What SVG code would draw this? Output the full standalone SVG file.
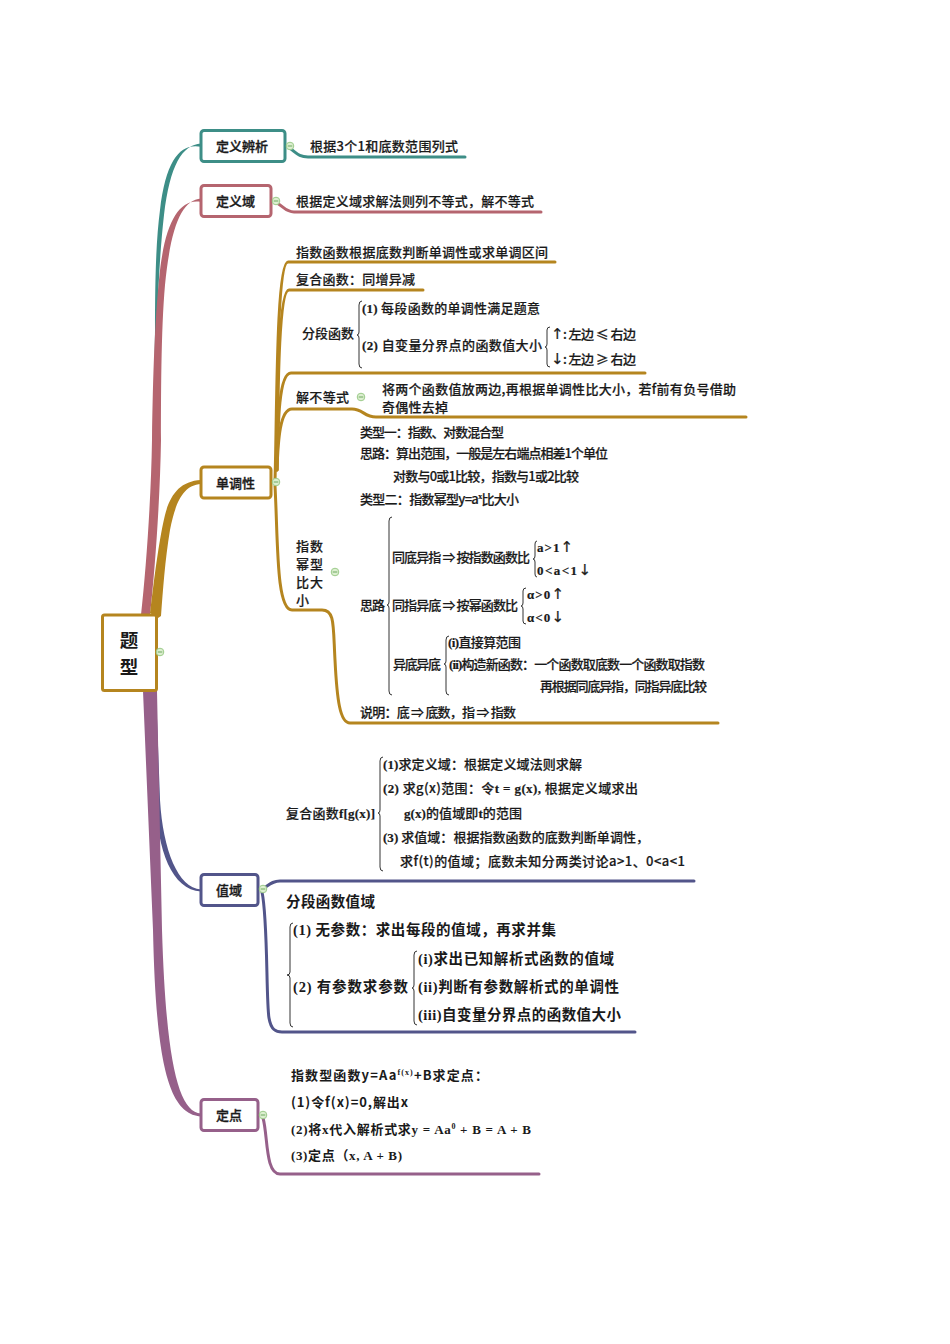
<svg xmlns="http://www.w3.org/2000/svg" width="950" height="1344" viewBox="0 0 950 1344">
<style>
text{font-family:"Noto Sans CJK SC","Liberation Sans",sans-serif;font-size:13px;font-weight:500;fill:#1a1a1a;stroke:#1a1a1a;stroke-width:.2}
.n{font-weight:500;stroke-width:.35}
.p{font-weight:700;stroke-width:0}
.b{font-size:14.5px;font-weight:700;stroke-width:0}
.m{font-family:"Liberation Serif","Noto Sans CJK SC",serif;font-weight:700}
.s{font-family:"Liberation Serif",serif;font-weight:700;font-size:8px}
.a{font-family:"DejaVu Sans",sans-serif;font-size:15px;font-weight:400}
.t{font-weight:700;stroke-width:0;text-anchor:middle;font-size:18.500px}
.box{fill:#fff;stroke-width:3}
.l{fill:none;stroke-width:3;stroke-linecap:round;stroke-linejoin:round}
.br{fill:none;stroke:#333;stroke-width:1}
.c{fill:#dcefd0;stroke:#9ccb8a;stroke-width:1}
.d{stroke:#6ea860;stroke-width:1}
</style>
<defs>
<g id="mi"><circle class="c" r="3.8"/><line class="d" x1="-2.300" x2="2.300"/></g>
</defs>
<g id="connectors">
<path fill="#3d8e87" d="M201,143.500C182,145 170,165 164,215C160,250 158,290 157,330L155,400H154L155,330C155,280 156,240 160,210C166,160 180,143 201,146.800Z"/>
<path fill="#b5656f" d="M201,198.500C182,200 171,225 165,285C161,330 161,400 161,440C160,500 155,570 150,615H141C146,570 151,500 152,440C153,370 155,320 159,280C164,225 178,198 201,202Z"/>
<path fill="#b5851f" d="M201,480C180,481 170,495 165,515C160,535 155,570 150,613L158,618L161,616C163,590 165,560 170,530C175,505 182,485 201,484Z"/>
<path fill="#52558a" d="M156,691L160,800C163,850 178,888 201,889.500V891.500C172,890 157,850 156,800L150,691Z"/>
<path fill="#96608a" d="M143,691H157L162,930C166,1060 178,1112 201,1113.500V1116.500C170,1114 156,1070 153,930Z"/>
<g class="l" stroke="#3d8e87"><path d="M288,147C296,152 298,157 308,157H465"/></g>
<g class="l" stroke="#b5656f"><path d="M277,203C284,207 286,212 294,212H541"/></g>
<g class="l" stroke="#b5851f">
<path d="M275,480C277,420 276,262 288,262H555"/>
<path d="M277,470C278,400 278,290 289,290H423"/>
<path d="M277,470C278,420 279,373 291,373H645"/>
<path d="M277,470C278,440 280,409 292,409H352C363,409 364,417 376,417H746"/>
<path d="M275,486C278,540 276,610 292,610H322C335,610 333,625 335,660C337,700 340,723 350,723H718"/>
</g>
<g class="l" stroke="#52558a">
<path d="M264,888C270,884 273,881 280,881H694"/>
<path d="M262,892C268,920 266,1000 269,1018C271,1030 276,1032 282,1032H635"/>
</g>
<g class="l" stroke="#96608a"><path d="M263,1118C268,1135 265,1174 280,1174H539"/></g>
</g>
<g id="braces">
<path class="br" d="M362,301Q359,301 359,305V332Q359,335 357,335Q359,335 359,338V364Q359,368 362,368"/>
<path class="br" d="M550,327Q547,327 547,330V344Q547,347 545,347Q547,347 547,350V364Q547,367 550,367"/>
<path class="br" d="M392,517Q389,517 389,521V602Q389,605 387,605Q389,605 389,608V691Q389,695 392,695"/>
<path class="br" d="M537,541Q535,541 535,544V556Q535,559 533,559Q535,559 535,562V574Q535,577 537,577"/>
<path class="br" d="M526,588Q523,588 523,591V603Q523,606 521,606Q523,606 523,609V621Q523,624 526,624"/>
<path class="br" d="M449,636Q446,636 446,640V661Q446,664 444,664Q446,664 446,667V691Q446,695 449,695"/>
<path class="br" d="M383,757Q380,757 380,761V810Q380,813 378,813Q380,813 380,816V867Q380,871 383,871"/>
<path class="br" d="M293,923Q290,923 290,927V972Q290,975 287,975Q290,975 290,978V1023Q290,1027 293,1027"/>
<path class="br" d="M417,951Q414,951 414,955V985Q414,988 412,988Q414,988 414,991V1021Q414,1025 417,1025"/>
</g>
<g id="root"><rect class="box" x="102.500" y="615" width="54" height="75.500" rx="2" stroke="#b5851f"/>
<text class="t" x="129" y="647">题</text>
<text class="t" x="129" y="674">型</text></g>
<g id="node-dingyibianxi"><rect class="box" x="201" y="130.500" width="84" height="31" rx="3" stroke="#3d8e87"/><text class="n" x="216" y="151" textLength="52">定义辨析</text></g>
<g id="node-dingyiyu"><rect class="box" x="201" y="185.500" width="70" height="31" rx="3" stroke="#b5656f"/><text class="n" x="216" y="206" textLength="39">定义域</text></g>
<g id="node-dandiaoxing"><rect class="box" x="201" y="467" width="70" height="31" rx="3" stroke="#b5851f"/><text class="n" x="216" y="488" textLength="39">单调性</text></g>
<g id="node-zhiyu"><rect class="box" x="201" y="874.500" width="57" height="31" rx="3" stroke="#52558a"/><text class="n" x="216" y="895" textLength="26">值域</text></g>
<g id="node-dingdian"><rect class="box" x="201" y="1099.500" width="57" height="31" rx="3" stroke="#96608a"/><text class="n" x="216" y="1120" textLength="26">定点</text></g>
<g id="toggles">
<use href="#mi" x="160" y="652"/><use href="#mi" x="290" y="146"/><use href="#mi" x="276" y="201"/><use href="#mi" x="276" y="482"/><use href="#mi" x="361" y="397"/><use href="#mi" x="335" y="572"/><use href="#mi" x="263" y="889"/><use href="#mi" x="263" y="1115"/>
</g>
<g id="labels-top">
<text x="310" y="151" textLength="148">根据3个1和底数范围列式</text>
<text x="296" y="206" textLength="238">根据定义域求解法则列不等式，解不等式</text>
<text x="296" y="257" textLength="252">指数函数根据底数判断单调性或求单调区间</text>
<text x="296" y="284" textLength="119">复合函数：同增异减</text>
<text x="302" y="338" textLength="52">分段函数</text>
<text x="362" y="313" textLength="178"><tspan class="m">(1)</tspan> 每段函数的单调性满足题意</text>
<text x="362" y="350" textLength="180"><tspan class="m">(2)</tspan> 自变量分界点的函数值大小</text>
<text x="551" y="339" textLength="85"><tspan class="a">↑</tspan>: 左边 ≤ 右边</text>
<text x="551" y="364" textLength="85"><tspan class="a">↓</tspan>: 左边 ≥ 右边</text>
<text x="296" y="402" textLength="53">解不等式</text>
<text x="382" y="394" textLength="354">将两个函数值放两边,再根据单调性比大小，若f前有负号借助</text>
<text x="382" y="412" textLength="66">奇偶性去掉</text>
</g>
<g id="labels-power">
<text x="360" y="437" textLength="144">类型一：指数、对数混合型</text>
<text x="360" y="458" textLength="248">思路：算出范围，一般是左右端点相差1个单位</text>
<text x="393" y="481" textLength="186">对数与0或1比较，指数与1或2比较</text>
<text x="360" y="504" textLength="159">类型二：指数幂型y=a<tspan class="s" dy="-5">x</tspan><tspan dy="5">比大小</tspan></text>
<text x="296" y="551" textLength="27">指数</text>
<text x="296" y="569" textLength="27">幂型</text>
<text x="296" y="587" textLength="27">比大</text>
<text x="296" y="605">小</text>
<text x="360" y="610" textLength="25">思路</text>
<text x="392" y="562" textLength="138">同底异指 ⇒ 按指数函数比</text>
<text class="m" x="537" y="552" textLength="36">a &gt; 1 <tspan class="a">↑</tspan></text>
<text class="m" x="537" y="575" textLength="54">0 &lt; a &lt; 1 <tspan class="a">↓</tspan></text>
<text x="392" y="610" textLength="126">同指异底 ⇒ 按幂函数比</text>
<text class="m" x="527" y="599" textLength="37">α &gt; 0 <tspan class="a">↑</tspan></text>
<text class="m" x="527" y="622" textLength="37">α &lt; 0 <tspan class="a">↓</tspan></text>
<text x="448" y="647" textLength="73"><tspan class="m">(i)</tspan>直接算范围</text>
<text x="393" y="669" textLength="48">异底异底</text>
<text x="449" y="669" textLength="256"><tspan class="m">(ii)</tspan>构造新函数：一个函数取底数一个函数取指数</text>
<text x="540" y="691" textLength="167">再根据同底异指，同指异底比较</text>
<text x="360" y="717" textLength="156">说明：底 ⇒ 底数，指 ⇒ 指数</text>
</g>
<g id="labels-range">
<text x="286" y="818" textLength="89">复合函数<tspan class="m">f[g(x)]</tspan></text>
<text x="383" y="769" textLength="199"><tspan class="m">(1)</tspan>求定义域：根据定义域法则求解</text>
<text x="383" y="793" textLength="255"><tspan class="m">(2)</tspan> 求g(x)范围：令<tspan class="m">t = g(x),</tspan> 根据定义域求出</text>
<text x="404" y="818" textLength="118"><tspan class="m">g(x)</tspan>的值域即<tspan class="m">t</tspan>的范围</text>
<text x="383" y="842" textLength="266"><tspan class="m">(3)</tspan> 求值域：根据指数函数的底数判断单调性，</text>
<text x="400" y="866" textLength="285">求f(t)的值域；底数未知分两类讨论a&gt;1、0&lt;a&lt;1</text>
<text class="b" x="286" y="907" textLength="89">分段函数值域</text>
<text class="b" x="293" y="935" textLength="263"><tspan class="m">(1)</tspan> 无参数：求出每段的值域，再求并集</text>
<text class="b" x="293" y="992" textLength="115"><tspan class="m">(2)</tspan> 有参数求参数</text>
<text class="b" x="418" y="964" textLength="196"><tspan class="m">(i)</tspan>求出已知解析式函数的值域</text>
<text class="b" x="418" y="992" textLength="201"><tspan class="m">(ii)</tspan>判断有参数解析式的单调性</text>
<text class="b" x="418" y="1020" textLength="203"><tspan class="m">(iii)</tspan>自变量分界点的函数值大小</text>
</g>
<g id="labels-point">
<text class="p" x="291" y="1080" textLength="197">指数型函数y=Aa<tspan class="s" dy="-5">f(x)</tspan><tspan dy="5">+B求定点：</tspan></text>
<text class="p" x="291" y="1107" textLength="117">(1)令f(x)=0,解出x</text>
<text class="p" x="291" y="1134" textLength="240"><tspan class="m">(2)</tspan>将<tspan class="m">x</tspan>代入解析式求<tspan class="m">y = Aa</tspan><tspan class="s" dy="-5">0</tspan><tspan class="m" dy="5"> + B = A + B</tspan></text>
<text class="p" x="291" y="1160" textLength="111"><tspan class="m">(3)</tspan>定点（<tspan class="m">x, A + B)</tspan></text>
</g>
</svg>
